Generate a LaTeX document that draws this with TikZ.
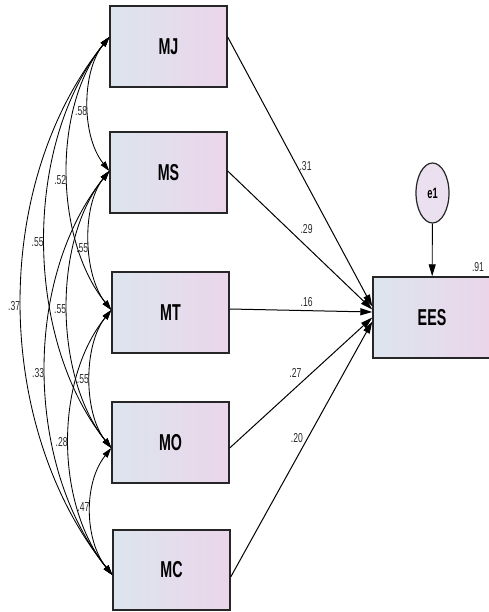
\documentclass[tikz,border=0pt]{standalone}
\usepackage{fontspec}
\usetikzlibrary{arrows.meta,calc,shapes.geometric}
\newfontfamily\narrowsans[FakeStretch=0.62]{Liberation Sans}
\newfontfamily\coefsans[FakeStretch=0.66]{Liberation Sans}
\definecolor{shadeL}{HTML}{DCE5EE}
\definecolor{shadeR}{HTML}{EBD5EA}
\definecolor{errfill}{HTML}{EAE0EF}
\definecolor{coefgray}{HTML}{2A2A2A}

\begin{document}
\begin{tikzpicture}[x=1pt,y=-1pt,
  obs/.style={draw=black!85, line width=1.4pt, left color=shadeL, right color=shadeR,
    minimum width=117pt, minimum height=81pt, inner sep=0pt,
    font=\narrowsans\bfseries\fontsize{23}{23}\selectfont},
  err/.style={ellipse, draw=black!85, line width=1.2pt, fill=errfill,
    minimum width=33pt, minimum height=60pt, inner sep=0pt,
    font=\narrowsans\bfseries\fontsize{15}{15}\selectfont},
  coef/.style={text=coefgray, inner sep=1pt, font=\coefsans\fontsize{13}{13}\selectfont},
  cov/.style={{Triangle[length=10pt,width=6pt]}-{Triangle[length=10pt,width=6pt]}, line width=0.85pt},
  reg/.style={-{Triangle[length=12pt,width=7pt]}, line width=1pt}
]
\useasboundingbox (0,0) rectangle (488,612);

% observed variables
\node[obs] (MJ) at (168.5,46.5) {MJ};
\node[obs] (MS) at (168.5,172.5) {MS};
\node[obs] (MT) at (170.5,312.5) {MT};
\node[obs] (MO) at (170.5,442.5) {MO};
\node[obs, minimum height=80pt] (MC) at (171.5,570) {MC};
\node[obs, minimum width=118pt] (EES) at (432,317.5) {EES};
\node[err] (e1) at (432.5,193) {e1};
\node[coef, anchor=center] (r2) at (478,267) {.91};

% ports on the boxes
\coordinate (MJl) at ($(MJ.west)+(0,-9.5)$);
\coordinate (MJr) at ($(MJ.east)+(0,-9.5)$);
\coordinate (MSl) at ($(MS.west)+(0,-1.5)$);
\coordinate (MSr) at ($(MS.east)+(0,-1.5)$);
\coordinate (MTl) at ($(MT.west)+(0,-2.5)$);
\coordinate (MTr) at ($(MT.east)+(0,-3.5)$);
\coordinate (MOl) at ($(MO.west)+(0,5.5)$);
\coordinate (MOr) at ($(MO.east)+(0,5.5)$);
\coordinate (MCl) at ($(MC.west)+(0,5)$);
\coordinate (MCr) at ($(MC.east)+(0,7)$);
\coordinate (E1) at ($(EES.west)+(0,-11)$);
\coordinate (E2) at ($(EES.west)+(0,-8)$);
\coordinate (E3) at ($(EES.west)+(0,-5.5)$);
\coordinate (E4) at ($(EES.west)+(0,0)$);
\coordinate (E5) at ($(EES.west)+(0,4)$);

% covariances
\draw[cov] (MJl) .. controls ($(MJl)+(-28,35)$) and ($(MSl)+(-28,-35)$) .. (MSl)
  node[coef, pos=0.55, anchor=east] {.58};
\draw[cov] (MJl) .. controls ($(MJl)+(-57,71)$) and ($(MTl)+(-57,-71)$) .. (MTl)
  node[coef, pos=0.52, anchor=east] {.52};
\draw[cov] (MJl) .. controls ($(MJl)+(-87,109)$) and ($(MOl)+(-87,-109)$) .. (MOl)
  node[coef, pos=0.5, anchor=east] {.55};
\draw[cov] (MJl) .. controls ($(MJl)+(-119,149)$) and ($(MCl)+(-119,-149)$) .. (MCl)
  node[coef, pos=0.5, anchor=east] {.37};
\draw[cov] (MSl) .. controls ($(MSl)+(-28,35)$) and ($(MTl)+(-28,-35)$) .. (MTl)
  node[coef, pos=0.55, anchor=east] {.55};
\draw[cov] (MSl) .. controls ($(MSl)+(-57,71)$) and ($(MOl)+(-57,-71)$) .. (MOl)
  node[coef, pos=0.5, anchor=east] {.55};
\draw[cov] (MSl) .. controls ($(MSl)+(-87,109)$) and ($(MCl)+(-87,-109)$) .. (MCl)
  node[coef, pos=0.5, anchor=east] {.33};
\draw[cov] (MTl) .. controls ($(MTl)+(-28,35)$) and ($(MOl)+(-28,-35)$) .. (MOl)
  node[coef, pos=0.5, anchor=east] {.55};
\draw[cov] (MTl) .. controls ($(MTl)+(-57,71)$) and ($(MCl)+(-57,-71)$) .. (MCl)
  node[coef, pos=0.5, anchor=east] {.28};
\draw[cov] (MOl) .. controls ($(MOl)+(-28,35)$) and ($(MCl)+(-28,-35)$) .. (MCl)
  node[coef, pos=0.47, anchor=east] {.47};

% regression paths
\draw[reg] (MJr) -- (E1) node[coef, pos=0.48, anchor=west, inner sep=2pt] {.31};
\draw[reg] (MSr) -- (E2) node[coef, pos=0.48, anchor=south west, inner sep=3pt] {.29};
\draw[reg] (MTr) -- (E3) node[coef, pos=0.54, anchor=south, inner sep=3pt] {.16};
\draw[reg] (MOr) -- (E4) node[coef, pos=0.52, anchor=south east, inner sep=2pt] {.27};
\draw[reg] (MCr) -- (E5) node[coef, pos=0.52, anchor=south east, inner sep=1pt] {.20};
\draw[reg, line width=0.9pt] (e1) -- (EES);
\end{tikzpicture}
\end{document}
